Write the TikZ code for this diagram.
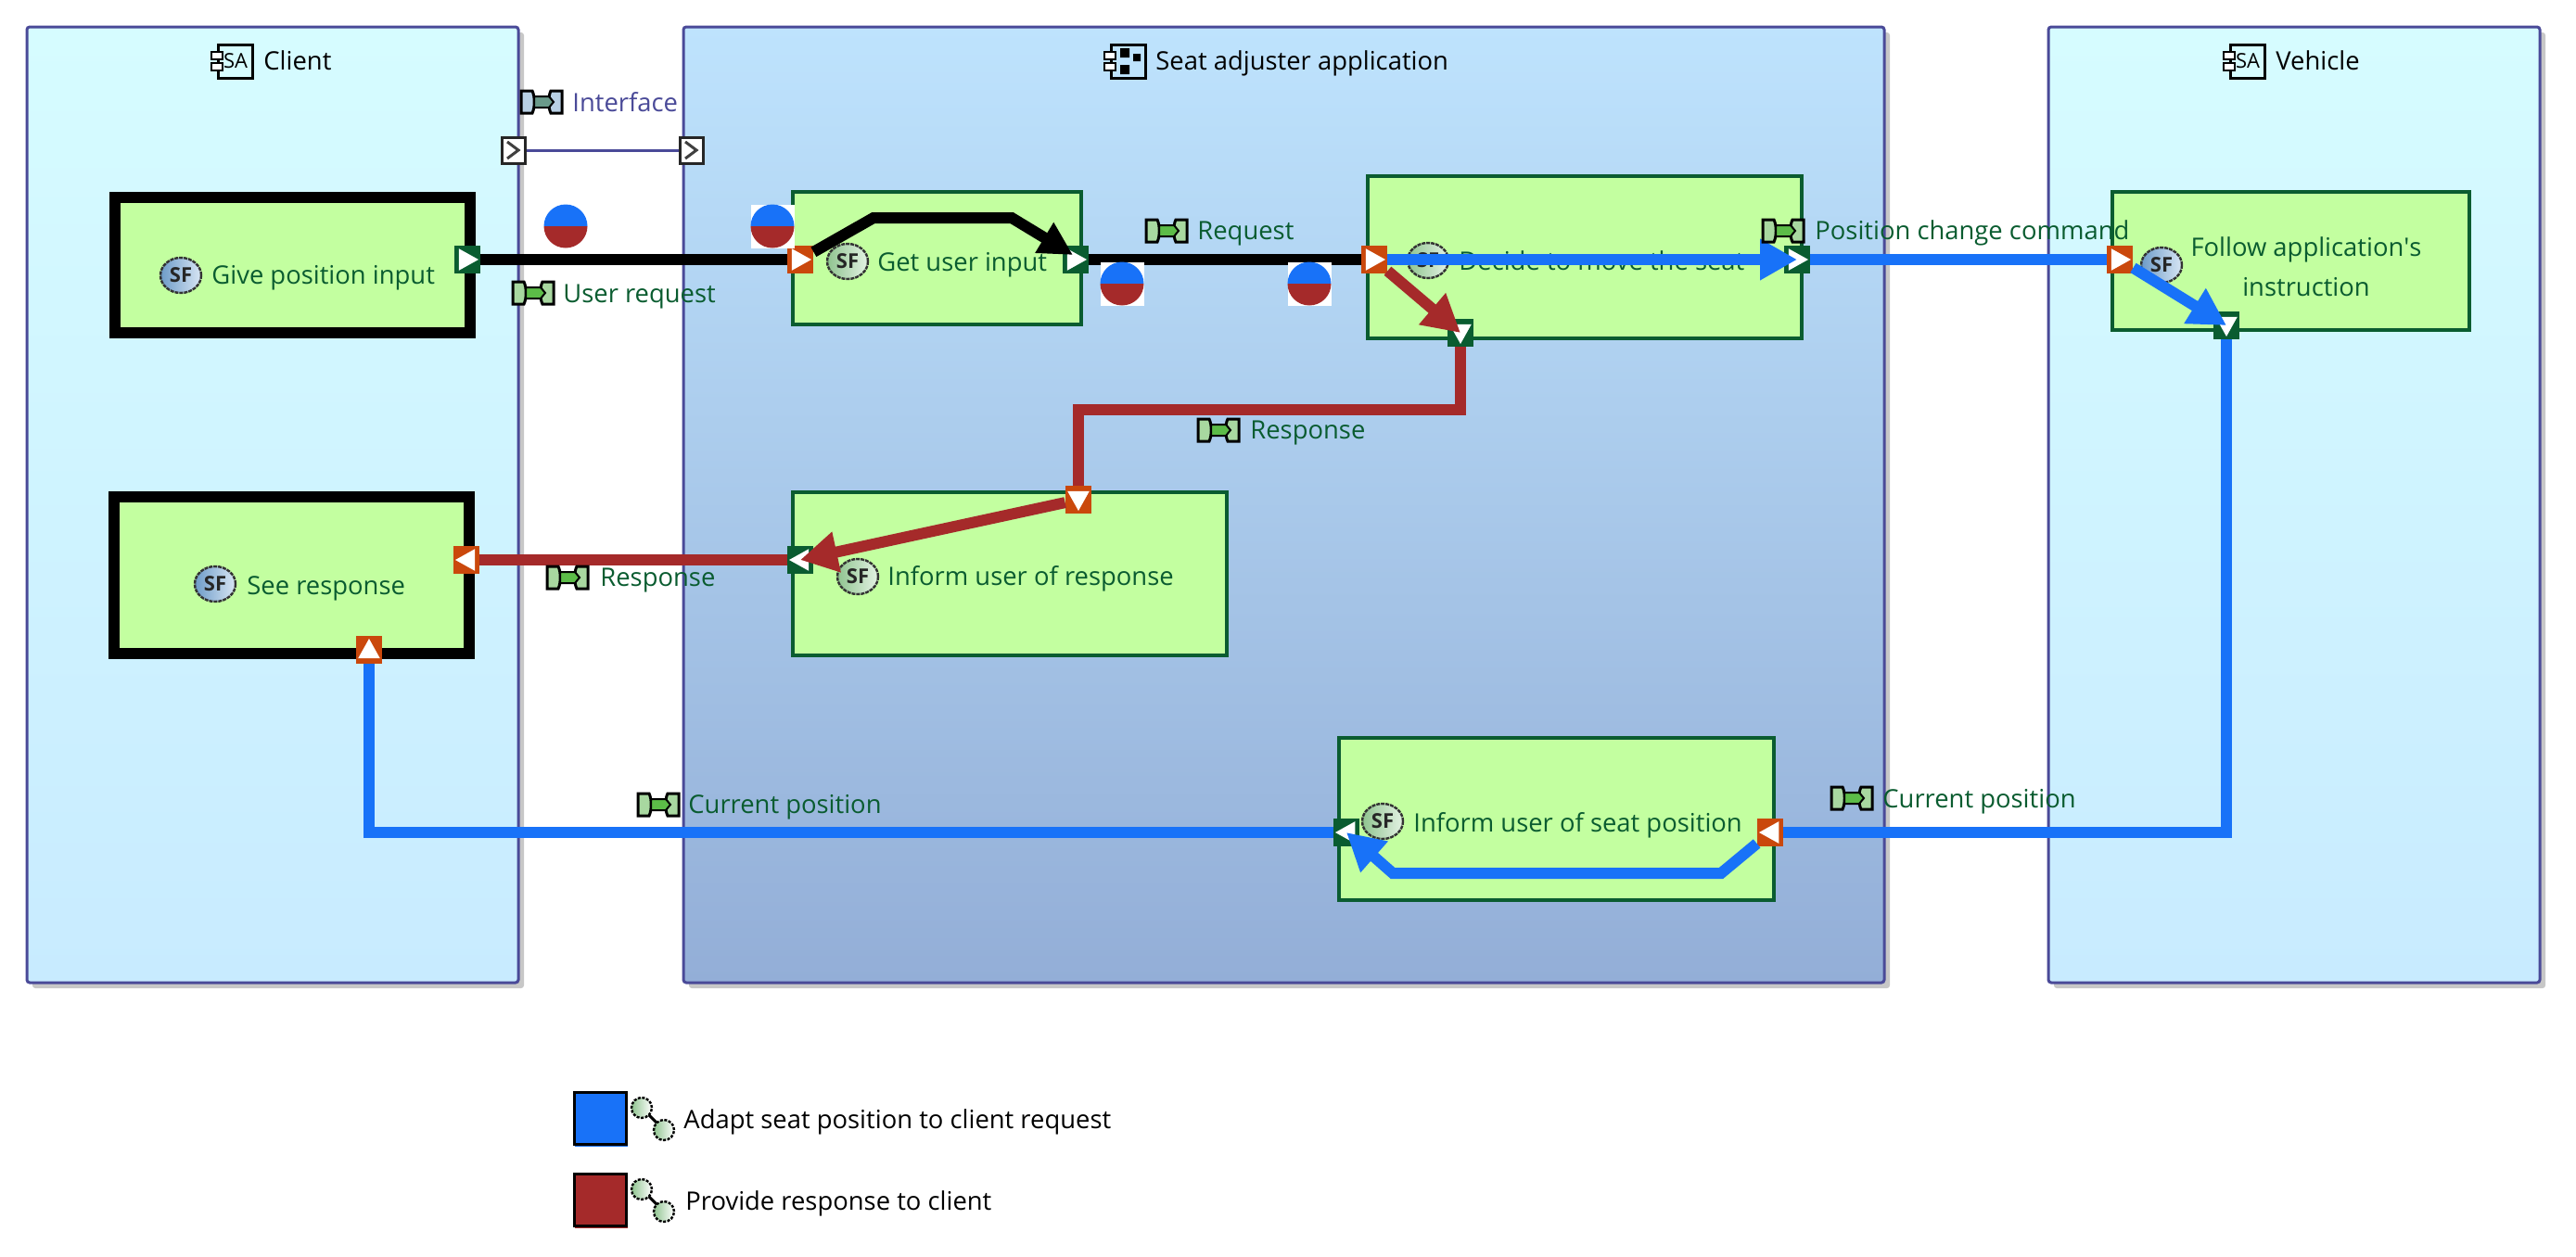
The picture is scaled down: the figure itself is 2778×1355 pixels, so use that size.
\documentclass[tikz,border=0pt]{standalone}
\usepackage{fontspec}
\setmainfont{Open Sans}
\usepackage{xcolor}
\usetikzlibrary{arrows.meta,shapes.geometric,shadows}

\definecolor{seatblue}{HTML}{1872F8}
\definecolor{replybrown}{HTML}{A52A2A}
\definecolor{ringindigo}{HTML}{4A4A98}
\definecolor{fngreen}{HTML}{C3FFA0}
\definecolor{darkgreen}{HTML}{0A5C30}
\definecolor{portorange}{HTML}{CA480C}
\definecolor{exlight}{HTML}{A8D8A0}
\definecolor{extag}{HTML}{5CBC48}
\definecolor{iflight}{HTML}{B8D0E4}
\definecolor{iftag}{HTML}{6A9A8A}
\definecolor{actortop}{HTML}{D6FCFF}
\definecolor{actorbot}{HTML}{C8EBFF}
\definecolor{apptop}{HTML}{BEE3FD}
\definecolor{appbot}{HTML}{93AED7}
\definecolor{sfbluedark}{HTML}{6D9BC8}
\definecolor{sfbluelight}{HTML}{D8E6F4}
\definecolor{sfgreendark}{HTML}{8FC48F}
\definecolor{sfgreenlight}{HTML}{E4F2E4}

\tikzset{
  lane/.style n args={2}{rectangle, draw=ringindigo, line width=1.5pt, rounded corners=1.5pt,
    top color=#1, bottom color=#2,
    drop shadow={shadow xshift=3pt, shadow yshift=-3pt, fill=black!22, opacity=1}},
  fnbox/.style={rectangle, fill=fngreen, draw=darkgreen, line width=1.8pt, inner sep=0pt},
  fnroot/.style={rectangle, fill=fngreen, draw=black, line width=6pt, inner sep=0pt},
  port/.style n args={2}{rectangle, fill=#1, minimum width=14pt, minimum height=15pt, inner sep=0pt,
    path picture={\fill[white, shift={(path picture bounding box.center)}]
      (#2:6pt) -- (#2+128:7.5pt) -- (#2-128:7.5pt) -- cycle;}},
  ifport/.style={rectangle, fill=white, draw=black!85, line width=1.5pt, minimum width=12.5pt,
    minimum height=14pt, inner sep=0pt,
    path picture={\draw[black!75, line width=1.5pt, shift={(path picture bounding box.center)}]
      (-3.5pt,-4.5pt) -- (2.5pt,0pt) -- (-3.5pt,4.5pt);}},
  mixdot/.style={rectangle, minimum size=23.5pt, inner sep=0pt, fill=white,
    path picture={\begin{scope}[shift={(path picture bounding box.center)}]
      \fill[seatblue] (-11.75pt,0pt) arc[start angle=180, end angle=0, radius=11.75pt] -- cycle;
      \fill[replybrown] (-11.75pt,0pt) arc[start angle=180, end angle=360, radius=11.75pt] -- cycle;
    \end{scope}}},
  sficon/.style={ellipse, draw=black!80, line width=1.2pt, dash pattern=on 2pt off 0.5pt,
    minimum width=22pt, minimum height=19pt, inner sep=0pt, text=black!85,
    font=\fontsize{11}{11}\selectfont\bfseries},
  sfblue/.style={sficon, left color=sfbluedark, right color=sfbluelight},
  sfgreen/.style={sficon, left color=sfgreendark, right color=sfgreenlight},
  caption/.style={anchor=west, inner sep=0pt, yshift=-2.2pt, text height=0.75em, text depth=0.22em,
    font=\fontsize{13.7}{21.5}\selectfont},
  fnlabel/.style={caption, text=darkgreen},
  tagtext/.style={anchor=center, inner sep=0pt, font=\fontsize{11}{11}\selectfont},
  flowline/.style={line width=6pt},
  flowarrow/.style={line width=6pt, -{Triangle[length=20pt, width=21pt]}},
  pics/exicon/.style n args={2}{code={
    \draw[line width=1.5pt, fill=#1] (-22,-12) -- (-10,-12) .. controls (-7,-6) and (-7,6) .. (-10,12) -- (-22,12) -- cycle;
    \draw[line width=1.5pt, fill=#1] (22,-12) -- (10,-12) .. controls (7,-6) and (7,6) .. (10,12) -- (22,12) -- cycle;
    \draw[line width=1pt, fill=#2] (-8,-6) -- (8,-6) -- (13,0) -- (8,6) -- (-8,6) -- cycle;
  }},
  pics/linkicon/.style={code={
    \draw[line width=1.5pt] (-12,-12) -- (12,12);
    \draw[line width=1.2pt, dash pattern=on 1.5pt off 0.8pt, left color=sfgreendark, right color=white] (-12,-12) circle (5.5pt);
    \draw[line width=1.2pt, dash pattern=on 1.5pt off 0.8pt, left color=sfgreendark, right color=white] (12,12) circle (5.5pt);
  }},
  pics/partnotch/.style={code={
    \draw[line width=1.5pt, fill=#1] (-15,-18) rectangle (22,18);
    \draw[line width=1.2pt, fill=white] (-22,-10) rectangle (-10,-2);
    \draw[line width=1.2pt, fill=white] (-22,2) rectangle (-10,10);
  }},
}

\begin{document}
\begin{tikzpicture}[x=0.5pt, y=-0.5pt]
  \useasboundingbox (0,0) rectangle (2778,1355);

  % Actors and component
  \node[lane={actortop}{actorbot}, minimum width=265pt, minimum height=515.5pt] (cClient) at (294,544.5) {};
  \node[lane={apptop}{appbot}, minimum width=647.5pt, minimum height=515.5pt] (cApp) at (1384.5,544.5) {};
  \node[lane={actortop}{actorbot}, minimum width=265pt, minimum height=515.5pt] (cVehicle) at (2474,544.5) {};

  % Titles
  \pic at (250,66) {partnotch=actortop};
  \node[tagtext] (tagClient) at (254,66) {SA};
  \node[caption] (tClient) at (284,66) {Client};
  \pic at (1213,66) {partnotch=apptop};
  \fill (1208,52) rectangle (1218,62) (1222,58) rectangle (1230,66) (1208,70) rectangle (1218,80);
  \node[caption] (tApp) at (1246,66) {Seat adjuster application};
  \pic at (2420,66) {partnotch=actortop};
  \node[tagtext] (tagVehicle) at (2424,66) {SA};
  \node[caption] (tVehicle) at (2454,66) {Vehicle};

  % Interface
  \pic at (584,110) {exicon={iflight}{iftag}};
  \node[caption, text=ringindigo] (tInterface) at (617,111) {Interface};
  \node[ifport] (ifLeft) at (554,162) {};
  \node[ifport] (ifRight) at (746,162) {};
  \draw[ringindigo, line width=1.5pt] (ifLeft) -- (ifRight);

  % Functions
  \node[fnroot, minimum width=191.5pt, minimum height=73pt] (fGive) at (315.5,286) {};
  \node[fnroot, minimum width=191.5pt, minimum height=84.5pt] (fSee) at (314.5,620.5) {};
  \node[fnbox, minimum width=155.5pt, minimum height=71.5pt] (fGet) at (1010.5,278.5) {};
  \node[fnbox, minimum width=234pt, minimum height=87.5pt] (fDecide) at (1709,277.5) {};
  \node[fnbox, minimum width=234pt, minimum height=88pt] (fInform) at (1089,619) {};
  \node[fnbox, minimum width=234.5pt, minimum height=87.5pt] (fSeat) at (1678.5,883.5) {};
  \node[fnbox, minimum width=192.5pt, minimum height=74.5pt] (fFollow) at (2470.5,281.5) {};

  % Function labels
  \node[sfblue] (sfGive) at (195,297) {SF};
  \node[fnlabel] (lGive) at (228,297) {Give position input};
  \node[sfblue] (sfSee) at (232,630) {SF};
  \node[fnlabel] (lSee) at (266,632) {See response};
  \node[sfgreen] (sfGet) at (914,282) {SF};
  \node[fnlabel] (lGet) at (946,283) {Get user input};
  \node[sfgreen] (sfDecide) at (1540,281) {SF};
  \node[fnlabel] (lDecide) at (1573,282) {Decide to move the seat};
  \node[sfgreen] (sfInform) at (925,622) {SF};
  \node[fnlabel] (lInform) at (957,622) {Inform user of response};
  \node[sfgreen] (sfSeat) at (1491,886) {SF};
  \node[fnlabel] (lSeat) at (1524,888) {Inform user of seat position};
  \node[sfblue] (sfFollow) at (2331,286) {SF};
  \node[fnlabel, anchor=center, align=center] (lFollow) at (2487,310) {Follow application\textquotesingle s\\instruction};

  % Ports
  \node[port={darkgreen}{0}] (pGiveOut) at (504,280) {};
  \node[port={portorange}{0}] (pGetIn) at (863,280) {};
  \node[port={darkgreen}{0}] (pGetOut) at (1160,280) {};
  \node[port={portorange}{0}] (pDecideIn) at (1482,280) {};
  \node[port={darkgreen}{0}] (pDecideOut) at (1938,280) {};
  \node[port={darkgreen}{-90}] (pDecideDown) at (1575,359) {};
  \node[port={portorange}{-90}] (pInformUp) at (1163,539) {};
  \node[port={darkgreen}{180}] (pInformIn) at (863,604) {};
  \node[port={portorange}{180}] (pSeeOut) at (503,604) {};
  \node[port={portorange}{90}] (pSeeIn) at (398,701) {};
  \node[port={darkgreen}{180}] (pSeatIn) at (1452,898) {};
  \node[port={portorange}{180}] (pSeatOut) at (1909,898) {};
  \node[port={portorange}{0}] (pFollowIn) at (2286,280) {};
  \node[port={darkgreen}{-90}] (pFollowDown) at (2401,351) {};

  % Exchanges
  \draw[flowline] (pGiveOut) -- (pGetIn);
  \draw[flowline] (pGetOut) -- (pDecideIn);
  \draw[flowline, seatblue] (pDecideOut) -- (pFollowIn);
  \draw[flowline, replybrown] (pDecideDown) -- (1575,442) -- (1163,442) -- (pInformUp);
  \draw[flowline, replybrown] (pInformIn) -- (pSeeOut);
  \draw[flowline, seatblue] (pSeeIn) -- (398,898) -- (pSeatIn);
  \draw[flowline, seatblue] (pSeatOut) -- (2401,898) -- (pFollowDown);

  % Arrows inside functions
  \draw[line width=6pt, -{Triangle[length=18pt, width=18pt]}] (pGetIn) -- (942,235) -- (1091,235) -- ([shift={(-3,-5)}]pGetOut.center);
  \draw[flowarrow, seatblue] (pDecideIn) -- (pDecideOut.center);
  \draw[flowarrow, replybrown] (pDecideIn) -- (pDecideDown.center);
  \draw[flowarrow, replybrown] (pInformUp) -- (pInformIn.center);
  \draw[flowarrow, seatblue] (pFollowIn) -- (pFollowDown.center);
  \draw[flowarrow, seatblue] (pSeatOut) -- (1856,942) -- (1502,942) -- (pSeatIn.center);

  % Exchange labels
  \pic at (575,316) {exicon={exlight}{extag}};
  \node[fnlabel] (xUser) at (607,317) {User request};
  \pic at (1258,249) {exicon={exlight}{extag}};
  \node[fnlabel] (xRequest) at (1291,249) {Request};
  \pic at (1314,464) {exicon={exlight}{extag}};
  \node[fnlabel] (xReplyTop) at (1348,464) {Response};
  \pic at (612,623) {exicon={exlight}{extag}};
  \node[fnlabel] (xReply) at (647,623) {Response};
  \pic at (1923,249) {exicon={exlight}{extag}};
  \node[fnlabel] (xCommand) at (1957,249) {Position change command};
  \pic at (1997,861) {exicon={exlight}{extag}};
  \node[fnlabel] (xCurrentRight) at (2030,862) {Current position};
  \pic at (710,868) {exicon={exlight}{extag}};
  \node[fnlabel] (xCurrentLeft) at (742,868) {Current position};

  % Scenario markers
  \node[mixdot] (mGive) at (610,244) {};
  \node[mixdot] (mGet) at (833,244) {};
  \node[mixdot] (mRequest) at (1210,306) {};
  \node[mixdot] (mDecide) at (1412,306) {};

  % Legend
  \fill[seatblue] (620,1180) rectangle (677,1237);
  \node[rectangle, fill=seatblue, draw=black, line width=1.5pt, minimum size=28pt, inner sep=0pt] (kBlue) at (647,1206) {};
  \pic at (704,1207) {linkicon};
  \node[caption] (kBlueText) at (737,1208) {Adapt seat position to client request};
  \fill[replybrown] (620,1268) rectangle (677,1325);
  \node[rectangle, fill=replybrown, draw=black, line width=1.5pt, minimum size=28pt, inner sep=0pt] (kBrown) at (647,1294) {};
  \pic at (704,1295) {linkicon};
  \node[caption] (kBrownText) at (739,1296) {Provide response to client};
\end{tikzpicture}
\end{document}
